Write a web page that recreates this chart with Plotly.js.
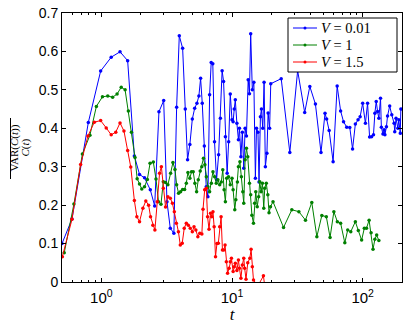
<!DOCTYPE html>
<html><head><meta charset="utf-8">
<script src="https://cdn.plot.ly/plotly-3.0.1.min.js"></script>
<style>html,body{margin:0;padding:0;background:#fff}#plot{width:409px;height:324px}</style>
</head><body><div id="plot"></div>
<script>
var blueT = [0.5,0.596,0.795,0.988,1.19,1.39,1.59,1.79,1.96,2.14,2.37,2.56,2.76,3.0,3.18,3.37,3.59,3.77,3.95,4.19,4.39,4.57,4.76,4.97,5.18,5.39,5.58,5.75,5.92,6.14,6.35,6.54,6.74,6.93,7.13,7.35,7.62,7.9,8.15,8.4,8.62,8.9,9.18,9.43,9.7,10.0,10.2,10.4,10.6,10.9,11.2,11.4,11.7,12.0,12.3,12.6,12.9,13.3,13.6,13.9,14.3,14.7,15.1,15.4,15.8,16.1,16.5,16.8,17.2,17.6,18.0,18.5,18.9,19.4,19.8,23.8,27.7,31.8,36.0,39.4,43.5,48.0,51.5,53.0,55.4,59.4,63.8,67.8,71.4,75.5,79.7,83.7,87.9,92.2,95.6,100,105,109,113,117,121,124,127,130,133,137,139,143,146,148,152,155,161,167,174,176,180,186,189,194,196];
var blueV = [0.10,0.164,0.415,0.549,0.585,0.599,0.576,0.328,0.28,0.271,0.24,0.198,0.443,0.472,0.209,0.14,0.127,0.455,0.641,0.608,0.45,0.318,0.358,0.424,0.452,0.465,0.484,0.53,0.465,0.354,0.248,0.222,0.487,0.571,0.568,0.365,0.266,0.331,0.426,0.55,0.522,0.378,0.283,0.365,0.489,0.422,0.417,0.45,0.474,0.413,0.37,0.40,0.326,0.39,0.296,0.40,0.38,0.526,0.49,0.646,0.50,0.52,0.27,0.40,0.39,0.26,0.43,0.45,0.40,0.52,0.30,0.335,0.44,0.40,0.516,0.529,0.337,0.55,0.441,0.509,0.463,0.337,0.439,0.424,0.394,0.313,0.51,0.445,0.417,0.403,0.402,0.346,0.411,0.422,0.43,0.465,0.413,0.465,0.377,0.378,0.383,0.439,0.47,0.444,0.426,0.478,0.403,0.385,0.396,0.383,0.404,0.432,0.458,0.435,0.413,0.391,0.426,0.40,0.422,0.387,0.45];

var greenT = [0.52,0.617,0.716,0.818,0.916,1.02,1.12,1.22,1.32,1.42,1.52,1.61,1.70,1.81,1.88,1.96,2.04,2.14,2.25,2.36,2.5,2.62,2.74,2.86,2.98,3.1,3.23,3.39,3.53,3.66,3.77,3.9,4.04,4.19,4.34,4.47,4.6,4.76,4.9,5.05,5.2,5.36,5.52,5.71,5.87,6.05,6.2,6.36,6.54,6.74,6.95,7.15,7.36,7.58,7.8,8.05,8.28,8.5,8.7,8.9,9.1,9.4,9.7,10.0,10.2,10.5,10.7,11.0,11.2,11.5,11.8,12.1,12.3,12.6,12.9,13.2,13.6,13.9,14.2,14.6,14.9,15.2,15.6,16.0,16.3,16.7,17.1,17.5,17.8,18.3,18.8,19.2,19.7,20.6,24.8,28.7,32.5,36.5,40.8,44.6,48.7,52.7,56.3,60.2,64.0,67.8,73.0,76.8,81.1,87.9,92.6,98.2,103,107,112,116,120,124,128,133];
var greenV = [0.076,0.203,0.333,0.382,0.457,0.482,0.484,0.481,0.489,0.507,0.50,0.445,0.39,0.324,0.269,0.255,0.242,0.248,0.267,0.309,0.312,0.268,0.209,0.202,0.261,0.259,0.253,0.283,0.311,0.293,0.253,0.231,0.235,0.241,0.241,0.257,0.285,0.27,0.287,0.287,0.257,0.235,0.266,0.289,0.30,0.322,0.305,0.274,0.248,0.235,0.257,0.287,0.274,0.257,0.266,0.253,0.26,0.292,0.24,0.209,0.27,0.274,0.253,0.27,0.24,0.188,0.214,0.26,0.30,0.313,0.274,0.235,0.205,0.318,0.348,0.326,0.257,0.227,0.174,0.153,0.205,0.235,0.196,0.222,0.261,0.235,0.257,0.192,0.244,0.257,0.227,0.18,0.196,0.209,0.142,0.188,0.183,0.161,0.207,0.118,0.173,0.17,0.116,0.183,0.157,0.153,0.102,0.135,0.131,0.157,0.134,0.109,0.14,0.14,0.161,0.128,0.085,0.111,0.122,0.108];

var redT = [0.503,0.596,0.694,0.79,0.884,0.988,1.09,1.19,1.29,1.39,1.49,1.59,1.68,1.79,1.87,1.96,2.08,2.19,2.3,2.38,2.48,2.57,2.68,2.79,2.88,2.98,3.1,3.23,3.37,3.5,3.62,3.75,3.89,4.02,4.16,4.31,4.47,4.63,4.79,4.97,5.12,5.29,5.48,5.67,5.88,6.0,6.18,6.36,6.5,6.67,6.85,7.0,7.15,7.3,7.48,7.67,7.86,8.05,8.25,8.45,8.65,8.85,9.05,9.25,9.5,9.7,9.9,10.2,10.4,10.6,10.9,11.2,11.4,11.7,12.0,12.3,12.5,12.8,13.2,13.7,14.0,14.3,14.6,15.8,17.4,17.8];
var redV = [0.066,0.163,0.306,0.38,0.416,0.42,0.401,0.383,0.39,0.414,0.393,0.342,0.299,0.212,0.17,0.157,0.192,0.211,0.2,0.17,0.148,0.135,0.209,0.283,0.30,0.244,0.195,0.222,0.218,0.205,0.183,0.153,0.131,0.096,0.101,0.14,0.153,0.148,0.14,0.131,0.144,0.135,0.118,0.127,0.125,0.189,0.24,0.244,0.17,0.137,0.179,0.17,0.183,0.144,0.066,0.10,0.101,0.144,0.17,0.083,0.083,0.096,0.053,0.023,0.036,0.053,0.062,0.027,0.04,0.049,0.03,0.057,0.036,0.01,0.044,0.062,0.036,0.007,0.05,0.062,0.085,0.04,0.005,-0.01,0.016,-0.01];

var seriesNames = ['<i>V</i> = 0.01','<i>V</i> = 1','<i>V</i> = 1.5'];
var seriesColors = ['#0000ff','#008000','#ff0000'];
var yTickVals = [0,0.1,0.2,0.3,0.4,0.5,0.6,0.7];
var yTickText = ['0','0.1','0.2','0.3','0.4','0.5','0.6','0.7'];
var xTickVals = [1,10,100];
var xTickText = ['10<sup>0</sup>','10<sup>1</sup>','10<sup>2</sup>'];
var xMinorVals = [0.5,0.6,0.7,0.8,0.9,2,3,4,5,6,7,8,9,20,30,40,50,60,70,80,90,200];

var xs = [blueT, greenT, redT], ys = [blueV, greenV, redV];
var traces = xs.map(function(x,i){
  return {x:x, y:ys[i], type:'scatter', mode:'lines+markers', name:seriesNames[i], showlegend:false,
    line:{color:seriesColors[i], width:1}, marker:{color:seriesColors[i], size:3.5}};
});

var L=62, R=7, T=13, B=42, W=409, H=324;
var pw=W-L-R, ph=H-T-B;
function px2x(p){return (p-L)/pw;}
function py2y(p){return (H-B-p)/ph;}

var annotations = [
  {xref:'paper', yref:'paper', x:px2x(5), y:py2y(148), text:'VAR(<i>C</i>(<i>t</i>))', textangle:-90, showarrow:false,
    font:{family:'Liberation Serif, serif', size:11}},
  {xref:'paper', yref:'paper', x:px2x(16), y:py2y(148), text:'<i>C</i>(<i>t</i>)', textangle:-90, showarrow:false,
    font:{family:'Liberation Serif, serif', size:11}}
];
var shapes = [
  {type:'line', xref:'paper', yref:'paper', x0:px2x(10.5), x1:px2x(10.5), y0:py2y(118), y1:py2y(179), line:{color:'#000', width:1}},
  {type:'rect', xref:'paper', yref:'paper', x0:px2x(288), x1:px2x(397), y0:py2y(18), y1:py2y(72), line:{color:'#000', width:1}, fillcolor:'#fff', layer:'above'}
];
var rowY = [28, 45, 62];
seriesNames.forEach(function(n,i){
  shapes.push({type:'line', xref:'paper', yref:'paper', x0:px2x(293), x1:px2x(317), y0:py2y(rowY[i]), y1:py2y(rowY[i]),
    line:{color:seriesColors[i], width:1}, layer:'above'});
  shapes.push({type:'circle', xref:'paper', yref:'paper', x0:px2x(303.5), x1:px2x(306.5), y0:py2y(rowY[i]-1.5), y1:py2y(rowY[i]+1.5),
    line:{color:seriesColors[i], width:0}, fillcolor:seriesColors[i], layer:'above'});
  annotations.push({xref:'paper', yref:'paper', x:px2x(320), y:py2y(rowY[i]), xanchor:'left', yanchor:'middle', text:n, showarrow:false,
    borderpad:0, font:{family:'Liberation Serif, serif', size:14.5, color:'#000'}});
});

var layout = {
  width:W, height:H, margin:{l:L,r:R,t:T,b:B}, paper_bgcolor:'#fff', plot_bgcolor:'#fff',
  showlegend:false,
  font:{family:'Liberation Sans, Arial, sans-serif', size:14, color:'#000'},
  xaxis:{type:'log', range:[Math.log10(0.5), Math.log10(200)], tickmode:'array', tickvals:xTickVals, ticktext:xTickText,
    ticks:'inside', ticklen:4, tickwidth:1, tickcolor:'#000', showline:true, linecolor:'#000', linewidth:1, mirror:'ticks',
    showgrid:false, zeroline:false, tickfont:{size:15}, ticklabelstandoff:2,
    minor:{tickmode:'array', tickvals:xMinorVals, ticks:'inside', ticklen:2, tickcolor:'#000', showgrid:false},
    title:{text:'<i>t</i>', font:{family:'Liberation Serif, serif', size:17}, standoff:2}},
  yaxis:{range:[0,0.7], tickmode:'array', tickvals:yTickVals, ticktext:yTickText,
    ticks:'inside', ticklen:4, tickwidth:1, tickcolor:'#000', showline:true, linecolor:'#000', linewidth:1, mirror:'ticks',
    showgrid:false, zeroline:false, tickfont:{size:14}},
  annotations:annotations,
  shapes:shapes
};
Plotly.newPlot('plot', traces, layout, {displayModeBar:false, staticPlot:true});
</script></body></html>
